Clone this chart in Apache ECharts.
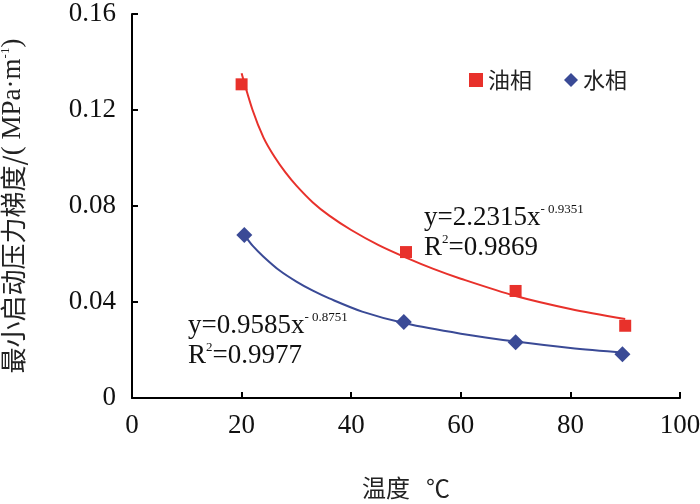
<!DOCTYPE html>
<html>
<head>
    <meta charset="utf-8">
    <title>最小启动压力梯度</title>
    <script src="https://cdn.jsdelivr.net/npm/echarts@6/dist/echarts.min.js"></script>
    <style type="text/css">
        html, body { margin: 0; padding: 0; background: #fff; }
        #chart { width: 700px; height: 504px; }
    </style>
</head>
<body>
    <div id="chart"></div>
    <script type="text/javascript">
        // 实测点
        var oilX = [20, 50, 70, 90];
        var oilY = [0.1307, 0.0608, 0.0446, 0.0301];
        var waterX = [20.5, 49.6, 70, 89.5];
        var waterY = [0.0679, 0.0317, 0.0232, 0.0182];
        // 拟合曲线
        var oilFitX = [20, 22, 24, 26, 28, 30, 33, 36, 40, 45, 50, 55, 60, 70, 80, 90];
        var oilFitY = [0.1353, 0.1200, 0.1085, 0.1005, 0.0940, 0.0885, 0.0815, 0.0760, 0.0700, 0.0637, 0.0585, 0.0538, 0.0497, 0.0425, 0.0371, 0.0329];
        var waterFitX = [20.5, 22, 24, 27, 30, 33, 36, 42, 50, 60, 70, 80, 90];
        var waterFitY = [0.0680, 0.0635, 0.0589, 0.0530, 0.0485, 0.0447, 0.0415, 0.0360, 0.0310, 0.0268, 0.0235, 0.0208, 0.0188];
        var xTicks = [0, 20, 40, 60, 80, 100];
        var yTicks = [0, 0.04, 0.08, 0.12, 0.16];

        var red = '#e8312b';
        var blue = '#3a4a96';
        var serif = 'Liberation Serif';
        var cjk = 'Noto Sans CJK SC';

        function pairs(xs, ys) {
            var out = [];
            for (var i = 0; i < xs.length; i++) out.push([xs[i], ys[i]]);
            return out;
        }

        var eqRich = {
            a: { fontFamily: serif, fontSize: 27, fill: '#111', lineHeight: 30 },
            s: { fontFamily: serif, fontSize: 13, fill: '#111', verticalAlign: 'top', lineHeight: 30 }
        };

        var chart = echarts.init(document.getElementById('chart'));
        var option = {
            animation: false,
            backgroundColor: '#fff',
            textStyle: { fontFamily: serif },
            grid: { left: 132, right: 20, top: 14, bottom: 106, outerBoundsMode: 'none', containLabel: false },
            legend: {
                left: 464, top: 64,
                itemWidth: 14, itemHeight: 14, itemGap: 32,
                textStyle: { fontFamily: cjk, fontSize: 22, color: '#222' },
                data: [
                    { name: '油相', icon: 'rect' },
                    { name: '水相', icon: 'diamond' }
                ]
            },
            xAxis: {
                type: 'value',
                min: xTicks[0], max: xTicks[xTicks.length - 1], interval: 20,
                name: '温度   ℃',
                nameLocation: 'middle', nameGap: 78,
                nameTextStyle: { fontFamily: cjk, fontSize: 24, color: '#222' },
                axisLine: { lineStyle: { color: '#000', width: 2 } },
                axisTick: { inside: true, length: 6, lineStyle: { color: '#000', width: 2 } },
                axisLabel: { fontFamily: serif, fontSize: 27, color: '#111', margin: 14 },
                splitLine: { show: false }
            },
            yAxis: {
                type: 'value',
                min: yTicks[0], max: yTicks[yTicks.length - 1], interval: 0.04,
                name: '{a|最小启动压力梯度/}{b|( MPa·m}{s|-1}{b|)}',
                nameLocation: 'middle', nameGap: 105, nameRotate: 90,
                nameTextStyle: {
                    rich: {
                        a: { fontFamily: cjk, fontSize: 26, color: '#222', lineHeight: 28 },
                        b: { fontFamily: serif, fontSize: 27, color: '#222', lineHeight: 28 },
                        s: { fontFamily: serif, fontSize: 13, color: '#222', verticalAlign: 'top', lineHeight: 28 }
                    }
                },
                axisLine: { show: true, lineStyle: { color: '#000', width: 2 } },
                axisTick: { show: true, inside: true, length: 6, lineStyle: { color: '#000', width: 2 } },
                axisLabel: {
                    fontFamily: serif, fontSize: 27, color: '#111', margin: 16,
                    formatter: function (v) { return v === 0 ? '0' : v.toFixed(2); }
                },
                splitLine: { show: false }
            },
            series: [
                {
                    name: '油相拟合', type: 'line', smooth: 0.3, showSymbol: false, silent: true,
                    lineStyle: { color: red, width: 2 },
                    data: pairs(oilFitX, oilFitY), z: 2
                },
                {
                    name: '水相拟合', type: 'line', smooth: 0.3, showSymbol: false, silent: true,
                    lineStyle: { color: blue, width: 2 },
                    data: pairs(waterFitX, waterFitY), z: 2
                },
                {
                    name: '油相', type: 'scatter', symbol: 'rect', symbolSize: 12,
                    itemStyle: { color: red, opacity: 1 },
                    data: pairs(oilX, oilY), z: 3
                },
                {
                    name: '水相', type: 'scatter', symbol: 'diamond', symbolSize: 16,
                    itemStyle: { color: blue, opacity: 1 },
                    data: pairs(waterX, waterY), z: 3
                }
            ],
            graphic: [
                {
                    type: 'text', left: 424, top: 203,
                    style: { text: '{a|y=2.2315x}{s|- 0.9351}\n{a|R}{s|2}{a|=0.9869}', rich: eqRich }
                },
                {
                    type: 'text', left: 188, top: 311,
                    style: { text: '{a|y=0.9585x}{s|- 0.8751}\n{a|R}{s|2}{a|=0.9977}', rich: eqRich }
                }
            ]
        };
        chart.setOption(option);
    </script>
</body>
</html>
